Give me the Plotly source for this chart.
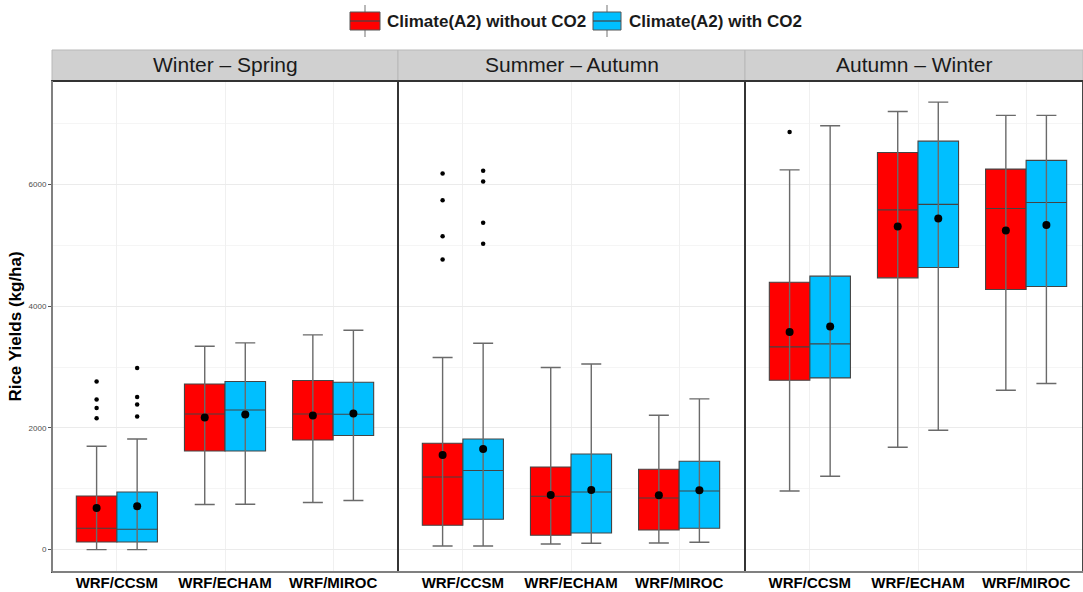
import plotly.graph_objects as go

# ---------------- data ----------------
seasons = ["Winter \u2013 Spring", "Summer \u2013 Autumn", "Autumn \u2013 Winter"]
models = ["WRF/CCSM", "WRF/ECHAM", "WRF/MIROC"]
series_names = ["Climate(A2) without CO2", "Climate(A2) with CO2"]
series_colors = ["#FF0000", "#00BFFF"]

# [season][model]  -- without CO2
lower_wo = [[0, 740, 773], [59, 92, 109], [963, 1682, 2619]]
q1_wo = [[125, 1621, 1802], [399, 235, 322], [2783, 4465, 4274]]
med_wo = [[350, 2229, 2229], [1193, 876, 848], [3331, 5583, 5606]]
q3_wo = [[881, 2722, 2778], [1747, 1358, 1320], [4394, 6526, 6252]]
upper_wo = [[1698, 3342, 3528], [3156, 2992, 2208], [6240, 7200, 7135]]
mean_wo = [[684, 2170, 2203], [1555, 898, 893], [3577, 5310, 5244]]

# [season][model]  -- with CO2
lower_w = [[0, 745, 806], [59, 104, 120], [1205, 1961, 2729]]
q1_w = [[125, 1621, 1874], [498, 273, 350], [2821, 4636, 4324]]
med_w = [[334, 2295, 2224], [1299, 947, 963], [3380, 5672, 5704]]
q3_w = [[947, 2762, 2751], [1818, 1572, 1452], [4493, 6712, 6395]]
upper_w = [[1818, 3397, 3605], [3391, 3051, 2476], [6964, 7353, 7135]]
mean_w = [[712, 2219, 2236], [1654, 980, 975], [3666, 5441, 5332]]

# outliers
out_season = [0, 0, 0, 0, 0, 0, 0, 0, 1, 1, 1, 1, 1, 1, 1, 1, 2]
out_model = [0] * 17
out_series = [0, 0, 0, 0, 1, 1, 1, 1, 0, 0, 0, 0, 1, 1, 1, 1, 0]
out_value = [2762, 2466, 2328, 2158, 2986, 2509, 2384, 2186,
             6181, 5742, 5150, 4767, 6224, 6050, 5369, 5024, 6860]

yticks = [0, 2000, 4000, 6000]

# ---------------- layout geometry ----------------
W, H = 1083, 592
ML, MR, MT, MB = 52, 0, 81, 20
pw = W - ML - MR
ph = H - MT - MB
panel_px = [(52, 398), (398, 745), (745, 1083)]
unit_px = 346 / 3.2
dodge = 0.375
box_w = 0.375
FONT = "Arial, Liberation Sans, sans-serif"
WHISK = "#6a6a6a"


def px_x(px):
    return (px - ML) / pw


def px_y(py):
    return (H - MB - py) / ph


stats = [
    (lower_wo, q1_wo, med_wo, q3_wo, upper_wo, mean_wo),
    (lower_w, q1_w, med_w, q3_w, upper_w, mean_w),
]

fig = go.Figure()

for p in range(3):
    xa = "x" if p == 0 else f"x{p + 1}"
    for s in range(2):
        lo, q1, md, q3, up, mn = stats[s]
        xs = [m + (s - 0.5) * dodge for m in range(len(models))]
        fig.add_trace(go.Box(
            x=xs, q1=q1[p], median=md[p], q3=q3[p],
            lowerfence=q1[p], upperfence=q3[p],
            width=box_w, fillcolor=series_colors[s],
            line=dict(color="#444444", width=1.1),
            name=series_names[s], showlegend=False,
            xaxis=xa, yaxis="y", hoverinfo="skip",
        ))
    for s in range(2):
        lo, q1, md, q3, up, mn = stats[s]
        xs = [m + (s - 0.5) * dodge for m in range(len(models))]
        # whiskers (errorbar style with caps, drawn through the box)
        fig.add_trace(go.Scatter(
            x=xs, y=lo[p], mode="markers",
            marker=dict(size=0.1, color="rgba(0,0,0,0)"),
            error_y=dict(type="data", symmetric=False,
                         array=[u - l for u, l in zip(up[p], lo[p])],
                         arrayminus=[0] * len(models),
                         color=WHISK, thickness=1.4, width=10),
            showlegend=False, xaxis=xa, yaxis="y", hoverinfo="skip",
        ))
        # means
        fig.add_trace(go.Scatter(
            x=xs, y=mn[p], mode="markers",
            marker=dict(size=8, color="black"),
            showlegend=False, xaxis=xa, yaxis="y",
        ))
    # outliers
    ox, oy = [], []
    for se, mo, sr, v in zip(out_season, out_model, out_series, out_value):
        if se == p:
            ox.append(mo + (sr - 0.5) * dodge)
            oy.append(v)
    if ox:
        fig.add_trace(go.Scatter(
            x=ox, y=oy, mode="markers",
            marker=dict(size=4.5, color="black"),
            showlegend=False, xaxis=xa, yaxis="y",
        ))

layout = dict(
    width=W, height=H,
    margin=dict(l=ML, r=MR, t=MT, b=MB, autoexpand=False),
    plot_bgcolor="white", paper_bgcolor="white",
    font=dict(family=FONT, color="#1a1a1a"),
    boxmode="overlay",
    showlegend=False,
    yaxis=dict(
        range=[-368, 7700], tickvals=yticks, ticktext=[str(v) for v in yticks],
        tickfont=dict(size=8, color="#4d4d4d"),
        ticks="outside", ticklen=3, tickcolor="#555555",
        showgrid=True, gridcolor="#ebebeb", gridwidth=1,
        minor=dict(dtick=1000, tick0=0, showgrid=True, gridcolor="#f5f5f5", ticks=""),
        zeroline=False, showline=False, automargin=False,
        title=dict(text="<b>Rice Yields (kg/ha)</b>", font=dict(size=17, color="black"),
                   standoff=2),
        anchor="x",
    ),
)

for p in range(3):
    key = "xaxis" if p == 0 else f"xaxis{p + 1}"
    x0, x1 = panel_px[p]
    rng_hi = -0.6 + (x1 - x0) / unit_px
    layout[key] = dict(
        domain=[px_x(x0), px_x(x1)], anchor="y", range=[-0.6, rng_hi],
        tickvals=list(range(len(models))),
        ticktext=[f"<b>{m}</b>" for m in models],
        tickfont=dict(size=15, color="black"),
        ticks="", ticklen=0,
        showgrid=True, gridcolor="#f0f0f0", gridwidth=1,
        zeroline=False, showline=False, automargin=False,
    )

fig.update_layout(**layout)

# panel borders and strips
for p in range(3):
    x0, x1 = panel_px[p]
    d0, d1 = px_x(x0), px_x(x1)
    fig.add_shape(type="rect", xref="paper", yref="paper",
                  x0=d0, x1=d1, y0=px_y(81), y1=px_y(50),
                  fillcolor="#D0D0D0", line=dict(color="#b8b8b8", width=1),
                  layer="above")
    fig.add_annotation(xref="paper", yref="paper", x=(d0 + d1) / 2, y=px_y(65),
                       text=seasons[p], showarrow=False,
                       font=dict(size=21, color="#1a1a1a"),
                       xanchor="center", yanchor="middle")
    fig.add_shape(type="rect", xref="paper", yref="paper",
                  x0=d0, x1=d1, y0=0, y1=1,
                  line=dict(color="#333333", width=1.8), fillcolor="rgba(0,0,0,0)",
                  layer="above")

fig.add_shape(type="line", xref="paper", yref="paper", x0=0, x1=0, y0=0, y1=1,
              line=dict(color="#808080", width=2), layer="above")
fig.add_shape(type="line", xref="paper", yref="paper", x0=0, x1=1, y0=0, y1=0,
              line=dict(color="#808080", width=2), layer="above")

# custom legend (ggplot-like box keys)
legend_keys = [(350, 380, 385), (593, 621, 627)]
for s, (k0, k1, tx) in enumerate(legend_keys):
    kc = (k0 + k1) / 2
    fig.add_shape(type="line", xref="paper", yref="paper",
                  x0=px_x(kc), x1=px_x(kc), y0=px_y(5), y1=px_y(37),
                  line=dict(color="#8a8a8a", width=1.2), layer="above")
    fig.add_shape(type="rect", xref="paper", yref="paper",
                  x0=px_x(k0), x1=px_x(k1), y0=px_y(30), y1=px_y(12),
                  fillcolor=series_colors[s], line=dict(color="#555555", width=1),
                  layer="above")
    fig.add_shape(type="line", xref="paper", yref="paper",
                  x0=px_x(k0), x1=px_x(k1), y0=px_y(21), y1=px_y(21),
                  line=dict(color="#444444", width=1.2), layer="above")
    fig.add_annotation(xref="paper", yref="paper", x=px_x(tx), y=px_y(21),
                       text=f"<b>{series_names[s]}</b>", showarrow=False,
                       font=dict(size=17, color="#1a1a1a"),
                       xanchor="left", yanchor="middle")

fig.write_html(
    "out.html",
    config={"displayModeBar": False},
    post_script="document.body.style.margin='0';document.body.style.overflow='hidden';",
)
